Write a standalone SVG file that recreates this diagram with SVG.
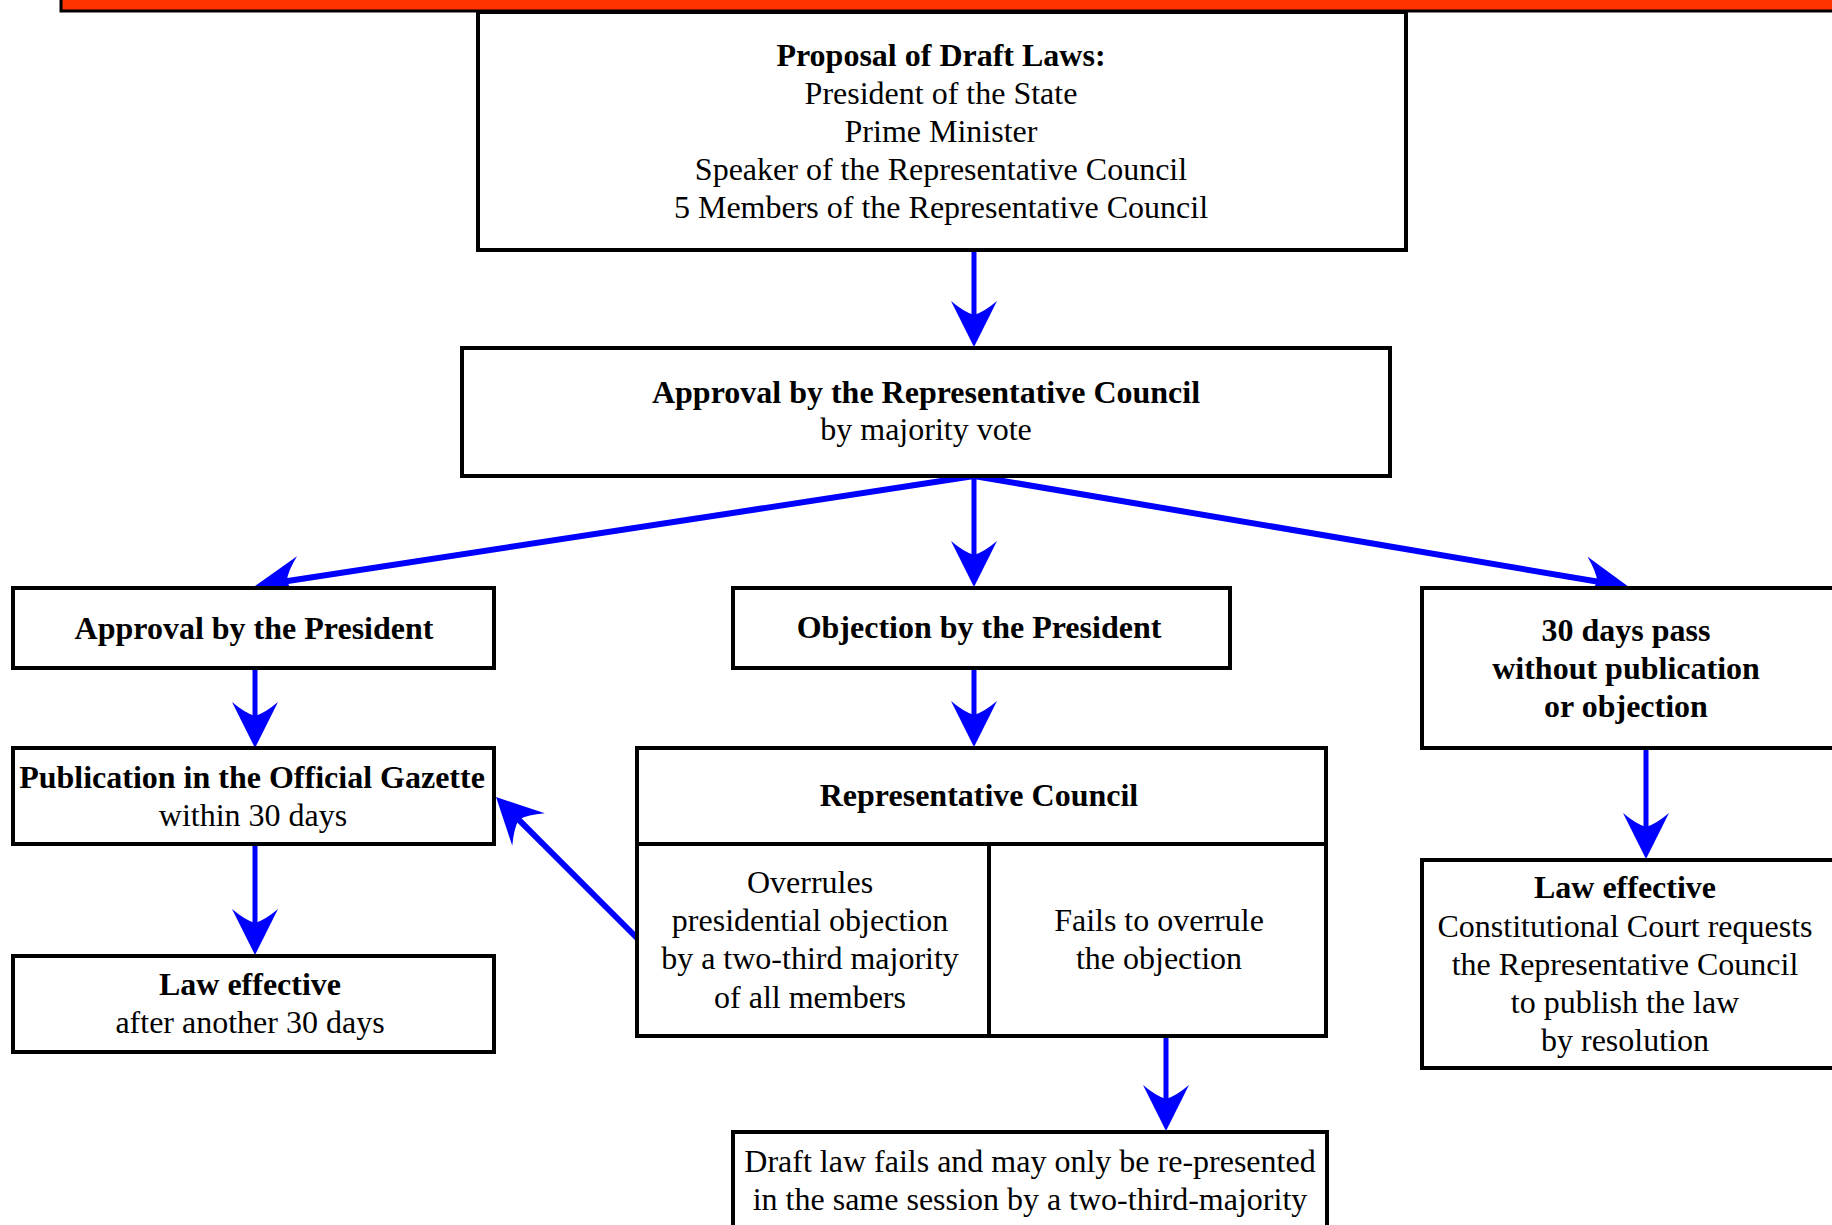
<svg xmlns="http://www.w3.org/2000/svg" width="1832" height="1225" viewBox="0 0 1832 1225">
<style>
.box{fill:#fff;stroke:#000;stroke-width:4}
.div{fill:none;stroke:#000;stroke-width:4}
text{font-family:"Liberation Serif","Times New Roman",serif;font-size:32px;fill:#000;text-anchor:middle}
.b{font-weight:bold}
.c{fill:none;stroke:#0000ff;stroke-width:5;marker-end:url(#ah)}
.d{stroke-width:6}
</style>
<defs>
<marker id="ah" markerUnits="userSpaceOnUse" markerWidth="46" markerHeight="46" viewBox="0 0 46 46" refX="36" refY="23" orient="auto">
<path d="M46,23 L0,0 Q11,13 14,23 Q11,33 0,46 Z" fill="#0000ff"/>
</marker>
</defs>
<rect x="61" y="-10" width="1800" height="21" fill="#ff3300" stroke="#000" stroke-width="3"/>
<g id="connectors">
<line class="c" x1="974" y1="251" x2="974" y2="337"/>
<line class="c" x1="974" y1="476" x2="974" y2="577"/>
<line class="c d" x1="974" y1="476" x2="264.9" y2="584.5"/>
<line class="c d" x1="974" y1="476" x2="1619.1" y2="585.3"/>
<line class="c" x1="255" y1="668" x2="255" y2="738"/>
<line class="c" x1="255" y1="844" x2="255" y2="945"/>
<line class="c" x1="974" y1="668" x2="974" y2="737"/>
<line class="c" x1="1166" y1="1036" x2="1166" y2="1121"/>
<line class="c d" x1="637" y1="938" x2="503.1" y2="804.1"/>
<line class="c" x1="1646" y1="748" x2="1646" y2="849"/>
</g>
<g id="proposal">
<rect class="box" x="478" y="12" width="928" height="238"/>
<text x="941" y="66" class="b">Proposal of Draft Laws:</text>
<text x="941" y="104">President of the State</text>
<text x="941" y="142">Prime Minister</text>
<text x="941" y="180">Speaker of the Representative Council</text>
<text x="941" y="218">5 Members of the Representative Council</text>
</g>
<g id="approval-council">
<rect class="box" x="462" y="348" width="928" height="128"/>
<text x="926" y="403" class="b">Approval by the Representative Council</text>
<text x="926" y="440">by majority vote</text>
</g>
<g id="approval-president">
<rect class="box" x="13" y="588" width="481" height="80"/>
<text x="254" y="639" class="b">Approval by the President</text>
</g>
<g id="objection-president">
<rect class="box" x="733" y="588" width="497" height="80"/>
<text x="979" y="638" class="b">Objection by the President</text>
</g>
<g id="thirty-days">
<rect class="box" x="1422" y="588" width="418" height="160"/>
<text x="1626" y="641" class="b">30 days pass</text>
<text x="1626" y="679" class="b">without publication</text>
<text x="1626" y="717" class="b">or objection</text>
</g>
<g id="publication">
<rect class="box" x="13" y="748" width="481" height="96"/>
<text x="252" y="788" class="b">Publication in the Official Gazette</text>
<text x="253" y="826">within 30 days</text>
</g>
<g id="representative-council">
<rect class="box" x="637" y="748" width="689" height="288"/>
<line class="div" x1="637" y1="844" x2="1326" y2="844"/>
<line class="div" x1="989" y1="844" x2="989" y2="1036"/>
<text x="979" y="806" class="b">Representative Council</text>
<text x="810" y="893">Overrules</text>
<text x="810" y="931">presidential objection</text>
<text x="810" y="969">by a two-third majority</text>
<text x="810" y="1008">of all members</text>
<text x="1159" y="931">Fails to overrule</text>
<text x="1159" y="969">the objection</text>
</g>
<g id="law-effective-left">
<rect class="box" x="13" y="956" width="481" height="96"/>
<text x="250" y="995" class="b">Law effective</text>
<text x="250" y="1033">after another 30 days</text>
</g>
<g id="law-effective-right">
<rect class="box" x="1422" y="860" width="418" height="208"/>
<text x="1625" y="898" class="b">Law effective</text>
<text x="1625" y="937">Constitutional Court requests</text>
<text x="1625" y="975">the Representative Council</text>
<text x="1625" y="1013">to publish the law</text>
<text x="1625" y="1051">by resolution</text>
</g>
<g id="draft-fails">
<rect class="box" x="733" y="1132" width="594" height="110"/>
<text x="1030" y="1172">Draft law fails and may only be re-presented</text>
<text x="1030" y="1210">in the same session by a two-third-majority</text>
</g>
</svg>
